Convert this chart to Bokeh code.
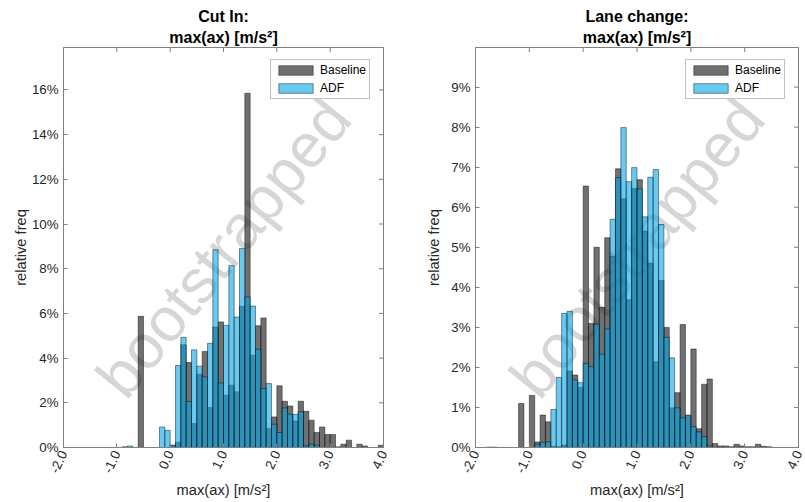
import numpy as np
from bokeh.plotting import figure
from bokeh.models import (ColumnDataSource, FixedTicker, PrintfTickFormatter, Legend,
                          LegendItem, Label, Title, Range1d)
from bokeh.layouts import row
from bokeh.embed import file_html
from bokeh.resources import INLINE

# ---------------- data (relative frequency in %, bin width 0.1 m/s²) ----------------
BIN = 0.1

cut_start = -0.9
cut_baseline = [0.03, 0, 0, 5.87, 0, 0, 0, 0, 0,
                0.1, 0.24, 4.6, 3.8, 1.07, 3.28, 4.3, 1.79, 5.39, 5.62,
                2.34, 2.79, 2.49, 6.32, 15.85, 4.13, 5.45, 5.8, 0.85, 1.37,
                2.76, 2.07, 1.86, 1.19, 2.07, 1.62, 1.22, 0.67, 0.92, 0.58,
                0.58, 0.03, 0.15, 0.33, 0, 0.15, 0.07, 0, 0, 0.1]
cut_adf = [0, 0.07, 0, 0, 0, 0, 0, 0.92, 0.77,
           0.1, 3.67, 4.93, 2.06, 4.37, 3.64, 3.16, 4.66, 8.85, 2.89,
           5.47, 8.14, 5.84, 8.9, 6.74, 6.33, 4.4, 2.64, 2.86, 1.04,
           0.67, 1.77, 1.49, 1.48, 1.6, 0.07, 0.15, 0.1, 0, 0,
           0, 0, 0, 0, 0, 0, 0, 0, 0, 0]

lane_start = -1.8
lane_baseline = [0.01, 0.01, 0, 0, 0, 0, 1.1, 0, 1.3,
                 0.14, 0.81, 0.64, 0.03, 0.02, 0.06, 1.91, 1.81, 1.5,
                 6.53, 3.1, 5.0, 3.5, 5.24, 4.78, 6.96, 6.21, 3.69, 6.47,
                 6.69, 5.4, 4.6, 2.14, 4.17, 3.0, 0.99, 1.37, 3.07, 0.8,
                 2.46, 0.47, 1.58, 1.71, 0.1, 0.04, 0.04, 0.02, 0.08, 0.04,
                 0.02, 0.02, 0.08, 0.03, 0.02]
lane_adf = [0, 0, 0, 0, 0, 0, 0, 0, 0,
            0.08, 0.13, 0.14, 0.95, 1.75, 3.35, 3.4, 1.69, 1.62,
            2.1, 2.02, 3.08, 2.33, 2.96, 5.7, 6.74, 7.99, 6.64, 6.99,
            6.46, 5.76, 6.75, 6.94, 5.57, 2.75, 2.24, 0.99, 0.74, 0.81,
            0.52, 0.39, 0.27, 0.04, 0, 0, 0, 0, 0, 0,
            0, 0, 0, 0, 0]

x_ticks = [-2, -1, 0, 1, 2, 3, 4]
cut_y_ticks = [0, 2, 4, 6, 8, 10, 12, 14, 16]
lane_y_ticks = [0, 1, 2, 3, 4, 5, 6, 7, 8, 9]

FONT = "Liberation Sans"
TXT = "#262626"
AXC = "#808080"
BASE_COLOR = "#111111"
ADF_COLOR = "#05a6e8"


def make(title1, title2, start, base, adf, ymax, yticks, width, bl, br, lab_standoff):
    n = len(base)
    left = np.round(start + BIN * np.arange(n), 3)
    src_b = ColumnDataSource(dict(left=left, right=left + BIN, top=base))
    src_a = ColumnDataSource(dict(left=left, right=left + BIN, top=adf))

    p = figure(width=width, height=502, x_range=Range1d(-2, 4), y_range=Range1d(0, ymax),
               output_backend="svg", toolbar_location=None,
               min_border_left=bl, min_border_right=br, min_border_top=47, min_border_bottom=55)
    p.background_fill_color = "white"
    p.border_fill_color = "white"
    p.outline_line_color = AXC
    p.outline_line_width = 1
    p.grid.visible = False

    # watermark
    wm = Label(x=1.0, y=ymax / 2, text="bootstrapped", angle=51, angle_units="deg",
               text_align="center", text_baseline="middle", text_font=FONT,
               text_font_size="62px", text_color="#d6d6d6", level="underlay")
    p.add_layout(wm)

    rb = p.quad(left="left", right="right", bottom=0, top="top", source=src_b,
                fill_color=BASE_COLOR, fill_alpha=0.6, line_color="black", line_alpha=0.55,
                line_width=0.8)
    ra = p.quad(left="left", right="right", bottom=0, top="top", source=src_a,
                fill_color=ADF_COLOR, fill_alpha=0.6, line_color="black", line_alpha=0.55,
                line_width=0.8)

    # mirrored ticks on top and right edges (clipped to frame -> point inward)
    p.scatter(x=x_ticks, y=[ymax] * len(x_ticks), marker="dash", angle=np.pi / 2, size=9,
              line_color=AXC, line_width=1)
    p.scatter(x=[4] * len(yticks), y=yticks, marker="dash", size=9,
              line_color=AXC, line_width=1)

    for ax in (p.xaxis[0], p.yaxis[0]):
        ax.axis_line_color = AXC
        ax.major_tick_line_color = AXC
        ax.major_tick_in = 4
        ax.major_tick_out = 0
        ax.minor_tick_line_color = None
        ax.major_label_text_font = FONT
        ax.major_label_text_font_size = "13.3px"
        ax.major_label_text_color = TXT
        ax.axis_label_text_font = FONT
        ax.axis_label_text_font_size = "14.7px"
        ax.axis_label_text_font_style = "normal"
        ax.axis_label_text_color = TXT

    p.xaxis.ticker = FixedTicker(ticks=x_ticks)
    p.xaxis.formatter = PrintfTickFormatter(format="%.1f")
    p.xaxis.major_label_orientation = np.deg2rad(65)
    p.xaxis.major_label_standoff = 4
    p.xaxis.axis_label = "max(ax) [m/s²]"
    p.xaxis.axis_label_standoff = 3

    p.yaxis.ticker = FixedTicker(ticks=yticks)
    p.yaxis.formatter = PrintfTickFormatter(format="%d%%")
    p.yaxis.major_label_standoff = 5
    p.yaxis.axis_label = "relative freq"
    p.yaxis.axis_label_standoff = lab_standoff

    frame_w = width - bl - br
    legend = Legend(items=[LegendItem(label="Baseline", renderers=[rb]),
                           LegendItem(label="ADF", renderers=[ra])],
                    location=(frame_w - 113, 348))
    legend.label_text_font = FONT
    legend.label_text_font_size = "12px"
    legend.label_text_color = "black"
    legend.label_height = 12
    legend.label_standoff = 3
    legend.glyph_width = 43
    legend.glyph_height = 12
    legend.spacing = 4
    legend.padding = 3
    legend.margin = 0
    legend.border_line_color = AXC
    legend.border_line_width = 1
    legend.background_fill_color = "white"
    legend.background_fill_alpha = 1
    p.add_layout(legend)

    p.add_layout(Title(text=title2, align="center", text_font=FONT, text_font_size="16px",
                       text_font_style="bold", text_color="black", standoff=3), "above")
    p.add_layout(Title(text=title1, align="center", text_font=FONT, text_font_size="16px",
                       text_font_style="bold", text_color="black", standoff=1), "above")
    return p


p1 = make("Cut In:", "max(ax) [m/s²]", cut_start, cut_baseline, cut_adf, 17.9, cut_y_ticks,
          402, 63, 19, 0)
p2 = make("Lane change:", "max(ax) [m/s²]", lane_start, lane_baseline, lane_adf, 9.99,
          lane_y_ticks, 403, 73, 7, 6)

layout = row(p1, p2)
open("out.html", "w").write(file_html(layout, INLINE))
